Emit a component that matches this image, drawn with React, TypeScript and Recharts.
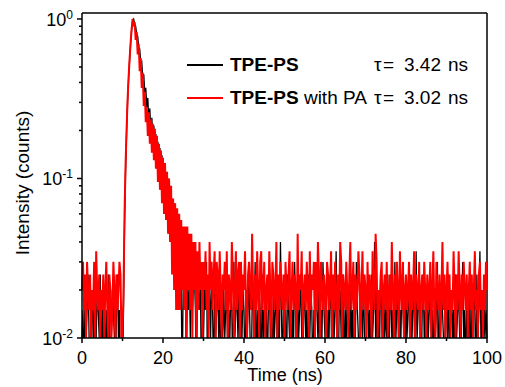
import React from 'react';
import { LineChart, Line, XAxis, YAxis, ReferenceLine } from 'recharts';

// channel width of the TCSPC histogram (ns) and counts in the peak channel
const TIME_STEP_NS = 0.25;
const PEAK_COUNTS = 200;

// photon counts per channel, TPE-PS
const tpePsCounts = [
  2, 3, 1, 4, 2, 3, 5, 2, 1, 3, 4, 2, 3, 1, 2, 4, 3, 2, 5, 1,
  3, 2, 4, 1, 3, 2, 5, 3, 1, 2, 4, 3, 2, 1, 3, 5, 2, 3, 1, 2,
  1, 3, 10, 22, 38, 60, 84, 110, 140, 170, 196, 200, 186, 180, 160, 156, 132, 130, 106, 108,
  86, 90, 69, 74, 56, 64, 46, 55, 39, 48, 33, 43, 28, 38, 24, 34, 20, 31, 17, 28,
  15, 25, 13, 22, 11, 20, 9, 17, 8, 15, 7, 14, 6, 12, 5, 11, 5, 9, 4, 1,
  5, 3, 6, 1, 4, 3, 5, 2, 6, 3, 4, 5, 3, 1, 4, 5, 3, 4, 1, 3,
  2, 4, 3, 6, 1, 3, 4, 2, 5, 3, 1, 4, 2, 3, 5, 2, 4, 1, 3, 2,
  4, 2, 3, 5, 1, 3, 2, 4, 3, 1, 6, 2, 3, 4, 2, 5, 1, 3, 2, 4,
  3, 1, 4, 2, 3, 5, 2, 1, 3, 4, 2, 6, 1, 3, 2, 4, 3, 1, 5, 2,
  3, 2, 4, 1, 3, 5, 2, 3, 1, 4, 2, 3, 5, 1, 3, 2, 8, 3, 1, 4,
  2, 3, 1, 5, 3, 2, 4, 1, 3, 2, 6, 3, 1, 4, 2, 3, 5, 2, 1, 3,
  4, 2, 3, 1, 5, 2, 4, 3, 1, 3, 2, 5, 3, 2, 4, 1, 3, 2, 6, 3,
  2, 4, 1, 3, 2, 5, 3, 1, 4, 2, 3, 7, 2, 1, 3, 4, 2, 3, 5, 1,
  3, 2, 4, 3, 1, 5, 2, 3, 1, 4, 2, 6, 3, 2, 1, 4, 3, 2, 5, 2,
  1, 3, 4, 2, 3, 1, 5, 2, 3, 8, 2, 4, 1, 3, 2, 5, 3, 1, 4, 2,
  3, 2, 5, 1, 3, 4, 2, 3, 1, 6, 2, 3, 4, 1, 3, 2, 5, 3, 2, 1,
  4, 2, 3, 5, 1, 3, 2, 4, 3, 1, 7, 2, 3, 4, 2, 1, 3, 5, 2, 3,
  1, 4, 2, 3, 5, 2, 3, 1, 4, 2, 3, 6, 1, 3, 2, 4, 3, 2, 1, 4,
  3, 2, 5, 1, 3, 4, 2, 3, 1, 5, 2, 3, 4, 2, 1, 3, 6, 2, 3, 1,
  4, 3, 2, 5, 1, 3, 2, 4, 3, 1, 5, 2, 3, 7, 2, 3, 1, 4, 2, 3,
  2,
];

// photon counts per channel, TPE-PS with PA
const tpePsPaCounts = [
  4, 6, 3, 5, 2, 6, 4, 3, 5, 2, 4, 3, 6, 2, 7, 4, 3, 5, 2, 4,
  3, 5, 2, 4, 6, 3, 2, 5, 4, 2, 3, 6, 4, 2, 5, 3, 4, 6, 5, 2,
  2, 4, 12, 24, 40, 62, 86, 112, 142, 172, 200, 180, 191, 148, 166, 120, 140, 94, 114, 74,
  92, 57, 70, 45, 56, 37, 52, 33, 47, 29, 44, 26, 41, 23, 37, 19, 33, 17, 30, 14,
  27, 12, 25, 11, 22, 9, 20, 8, 18, 5, 15, 4, 14, 3, 13, 3, 12, 3, 11, 4,
  10, 3, 10, 2, 10, 4, 9, 3, 9, 2, 8, 4, 8, 2, 7, 3, 8, 4, 6, 2,
  6, 4, 7, 3, 5, 2, 8, 4, 6, 3, 5, 7, 2, 6, 5, 3, 7, 4, 2, 5,
  4, 6, 3, 7, 2, 5, 4, 3, 8, 5, 2, 4, 7, 3, 5, 6, 2, 6, 3, 5,
  4, 7, 3, 2, 5, 6, 4, 3, 9, 4, 2, 5, 3, 7, 4, 2, 6, 7, 3, 4,
  6, 2, 4, 5, 3, 7, 4, 2, 6, 5, 3, 4, 8, 2, 5, 3, 6, 4, 3, 5,
  2, 6, 4, 3, 5, 7, 2, 4, 6, 3, 5, 4, 2, 9, 3, 5, 4, 7, 2, 4,
  5, 3, 6, 4, 2, 7, 3, 5, 4, 6, 2, 6, 3, 8, 5, 2, 6, 4, 3, 5,
  4, 2, 6, 5, 3, 4, 7, 2, 5, 3, 6, 4, 2, 5, 3, 8, 6, 2, 5, 4,
  3, 6, 4, 2, 5, 8, 3, 4, 6, 2, 5, 3, 4, 7, 5, 2, 4, 7, 3, 5,
  4, 2, 6, 3, 5, 4, 2, 7, 4, 3, 9, 6, 2, 4, 3, 5, 6, 2, 4, 5,
  3, 6, 2, 4, 5, 3, 8, 4, 2, 5, 3, 6, 4, 2, 7, 4, 3, 6, 2, 4,
  5, 3, 4, 6, 2, 5, 3, 4, 7, 2, 5, 4, 3, 6, 2, 4, 5, 3, 6, 4,
  2, 5, 3, 4, 6, 2, 4, 7, 3, 2, 6, 4, 3, 5, 2, 4, 8, 3, 5, 2,
  4, 6, 3, 5, 2, 4, 3, 7, 4, 2, 5, 3, 7, 4, 2, 5, 3, 6, 4, 3,
  5, 2, 4, 6, 3, 5, 2, 4, 7, 3, 4, 2, 5, 6, 3, 4, 2, 5, 3, 6,
  4,
];

const xTicks = [0, 10, 20, 30, 40, 50, 60, 70, 80, 90, 100];
const xLabelled = [0, 20, 40, 60, 80, 100];
const yTicks = [
  0.01, 0.02, 0.03, 0.04, 0.05, 0.06, 0.07, 0.08, 0.09,
  0.1, 0.2, 0.3, 0.4, 0.5, 0.6, 0.7, 0.8, 0.9, 1,
];
const yDecades = [0.01, 0.1, 1];
const yExponents = ['-2', '-1', '0'];
const Y_MIN = 0.01;
const Y_MAX = 1.09;
const X_MAX = 100;

const data = tpePsPaCounts.map((c, i) => ({
  t: i * TIME_STEP_NS,
  ps: tpePsCounts[i] / PEAK_COUNTS,
  pa: c / PEAK_COUNTS,
}));

const FONT = '"Liberation Sans", Arial, sans-serif';

const XTick = ({ x, y, payload }: any) => {
  const major = xLabelled.includes(payload.value);
  return (
    <g>
      <line x1={x} x2={x} y1={y} y2={y + (major ? 5 : 3)} stroke="#000" strokeWidth={1.5} />
      {major && (
        <text x={x} y={y + 26} textAnchor="middle" fontSize={18} fontFamily={FONT} fill="#000">
          {payload.value}
        </text>
      )}
    </g>
  );
};

const YTick = ({ x, y, payload }: any) => {
  const idx = yDecades.indexOf(payload.value);
  return (
    <g>
      <line x1={x - (idx >= 0 ? 5 : 3)} x2={x} y1={y} y2={y} stroke="#000" strokeWidth={1.5} />
      {idx >= 0 && (
        <text x={x - 9} y={y + 7} textAnchor="end" fontSize={18} fontFamily={FONT} fill="#000">
          10
          <tspan dy={-7} fontSize={12}>{yExponents[idx]}</tspan>
        </text>
      )}
    </g>
  );
};

const Lifetime = ({ y, value }: { y: number; value: string }) => (
  <text y={y} fontSize={19} fill="#000">
    <tspan x={374}>τ</tspan>
    <tspan x={383}>=</tspan>
    <tspan x={404}>{value}</tspan>
    <tspan x={448}>ns</tspan>
  </text>
);

export default function App() {
  return (
    <div style={{ position: 'fixed', left: 0, top: 0, width: 505, height: 387, background: '#fff' }}>
      <LineChart width={505} height={387} data={data} margin={{ top: 13, right: 18, bottom: 0, left: 0 }}>
        <XAxis
          dataKey="t"
          type="number"
          domain={[0, X_MAX]}
          ticks={xTicks}
          interval={0}
          height={49}
          tickLine={false}
          tickSize={0}
          tickMargin={0}
          tick={<XTick />}
          axisLine={{ stroke: '#000', strokeWidth: 1.5 }}
        />
        <YAxis
          scale="log"
          type="number"
          domain={[Y_MIN, Y_MAX]}
          allowDataOverflow
          ticks={yTicks}
          interval={0}
          width={82}
          tickLine={false}
          tickSize={0}
          tickMargin={0}
          tick={<YTick />}
          axisLine={{ stroke: '#000', strokeWidth: 1.5 }}
        />
        <ReferenceLine y={Y_MAX} stroke="#000" strokeWidth={1.5} />
        <ReferenceLine x={X_MAX} stroke="#000" strokeWidth={1.5} />
        <Line dataKey="ps" type="linear" stroke="#000" strokeWidth={1.3} dot={false} isAnimationActive={false} />
        <Line dataKey="pa" type="linear" stroke="#ff0000" strokeWidth={2} dot={false} isAnimationActive={false} />
      </LineChart>
      <svg
        width={505}
        height={387}
        style={{ position: 'absolute', left: 0, top: 0, pointerEvents: 'none' }}
        fontFamily={FONT}
      >
        <text x={285} y={381} textAnchor="middle" fontSize={18} fill="#000">Time (ns)</text>
        <text transform="translate(29,183) rotate(-90)" textAnchor="middle" fontSize={19} fill="#000">
          Intensity (counts)
        </text>
        <line x1={187} x2={223} y1={65} y2={65} stroke="#000" strokeWidth={2} />
        <text x={230} y={71} fontSize={19} fontWeight="bold" fill="#000">TPE-PS</text>
        <Lifetime y={71} value="3.42" />
        <line x1={187} x2={223} y1={98} y2={98} stroke="#ff0000" strokeWidth={2} />
        <text x={230} y={104} fontSize={19} fill="#000">
          <tspan fontWeight="bold">TPE-PS</tspan> with PA
        </text>
        <Lifetime y={104} value="3.02" />
      </svg>
    </div>
  );
}
